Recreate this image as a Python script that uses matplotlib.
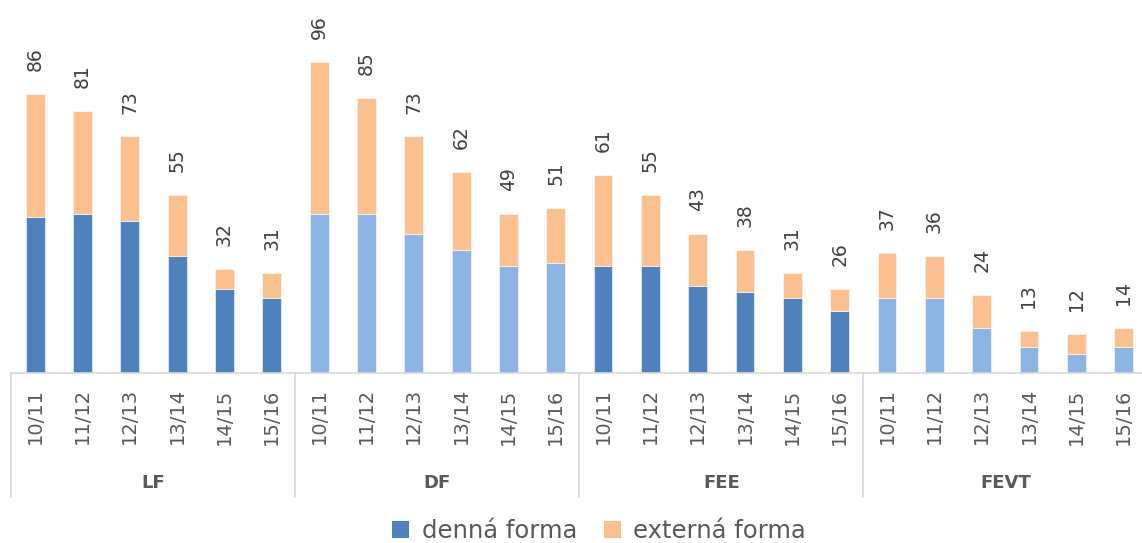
import matplotlib
matplotlib.use("Agg")
import matplotlib.pyplot as plt
import matplotlib.transforms as mtransforms
from matplotlib.patches import Patch
from matplotlib.lines import Line2D

groups = ["LF", "DF", "FEE", "FEVT"]
years = ["10/11", "11/12", "12/13", "13/14", "14/15", "15/16"]
totals = [86, 81, 73, 55, 32, 31,
          96, 85, 73, 62, 49, 51,
          61, 55, 43, 38, 31, 26,
          37, 36, 24, 13, 12, 14]
denna = [48, 49, 47, 36, 26, 23,
         49, 49, 43, 38, 33, 34,
         33, 33, 27, 25, 23, 19,
         23, 23, 14, 8, 6, 8]
externa = [t - d for t, d in zip(totals, denna)]
series_names = ["denná forma", "externá forma"]

DARK = "#4F81BD"
LIGHT = "#8EB4E3"
ORANGE = "#FAC090"
GRID = "#D9D9D9"

W, H = 1142, 543
fig = plt.figure(figsize=(W / 100, H / 100), dpi=100)
base_px = 373
left_px = 11.4
slot = 47.33
n = len(totals)
ax = fig.add_axes([left_px / W, (H - base_px) / H, slot * n / W, base_px / H])
ax.set_xlim(-0.5, n - 0.5)
ax.set_ylim(0, base_px / 3.24)

x = list(range(n))
bcolors = []
for gi in range(len(groups)):
    c = DARK if gi % 2 == 0 else LIGHT
    bcolors += [c] * len(years)

ax.bar(x, denna, width=0.4, color=bcolors, edgecolor="white", linewidth=0.4)
ax.bar(x, externa, bottom=denna, width=0.4, color=ORANGE, edgecolor="white", linewidth=0.4)

for xi, t in zip(x, totals):
    ax.annotate(str(t), (xi, t), xytext=(0, 16.5), textcoords="offset points",
                rotation=90, ha="center", va="bottom", fontsize=13.5, color="#404040")

for s in ["top", "right", "left"]:
    ax.spines[s].set_visible(False)
ax.spines["bottom"].set_color(GRID)
ax.spines["bottom"].set_linewidth(1.2)
ax.set_yticks([])
ax.set_xticks(x)
ax.set_xticklabels(years * len(groups), rotation=90, fontsize=14, color="#595959")
ax.tick_params(axis="x", length=0, pad=11)

trans = mtransforms.blended_transform_factory(ax.transData, ax.transAxes)
sep_bottom = -(497 - base_px) / base_px
for k in range(len(groups) + 1):
    xs = k * len(years) - 0.5
    ax.add_line(Line2D([xs, xs], [0, sep_bottom], transform=trans, color=GRID,
                       linewidth=1.2, clip_on=False))

for gi, g in enumerate(groups):
    xc = gi * len(years) + (len(years) - 1) / 2
    ax.text(xc, -(483 - base_px) / base_px, g, transform=trans, ha="center", va="center",
            fontsize=13, fontweight="bold", color="#595959")

handles = [Patch(facecolor=DARK), Patch(facecolor=ORANGE)]
fig.legend(handles, series_names, loc="center", bbox_to_anchor=(0.5245, 0.022),
           ncol=2, frameon=False, fontsize=17.5, handlelength=0.7, handleheight=0.7,
           handletextpad=0.5, columnspacing=1.1, labelcolor="#595959",
           borderaxespad=0, borderpad=0)

fig.savefig("out.png", dpi=100)
